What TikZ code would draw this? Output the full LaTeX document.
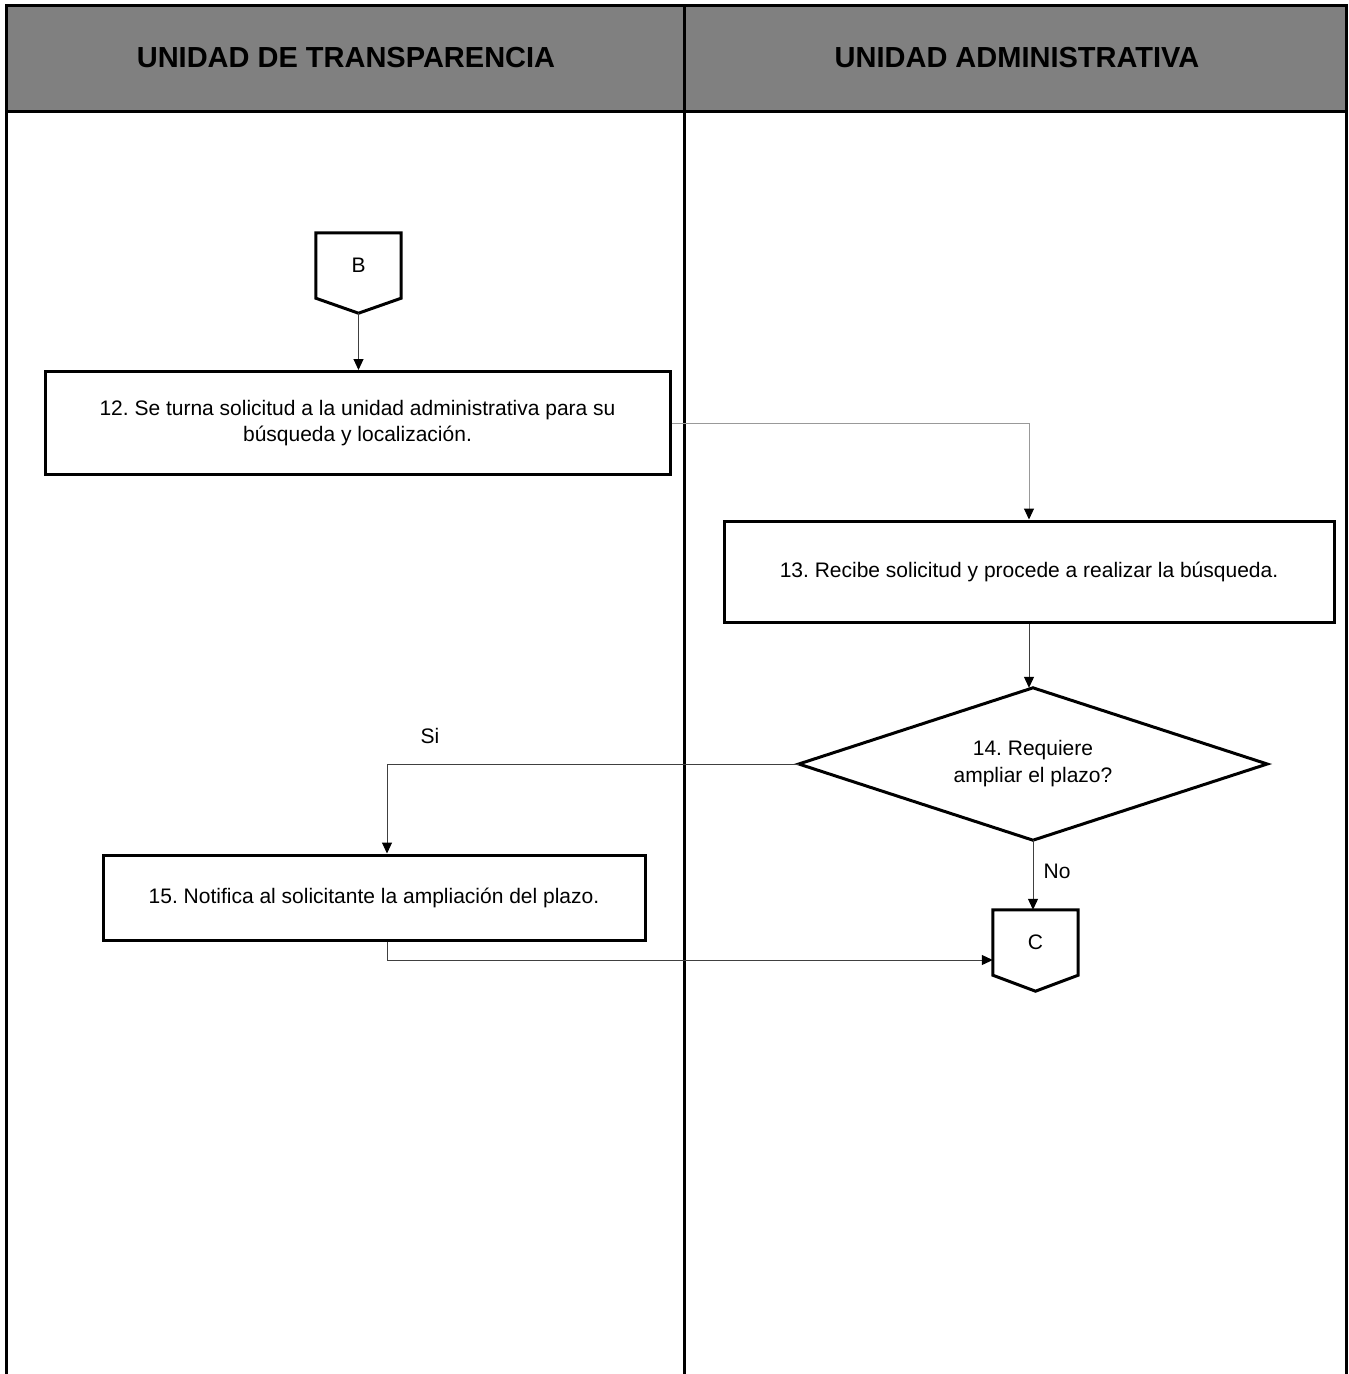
\documentclass[tikz,border=0pt]{standalone}
\usepackage{fontspec}
\setmainfont{Liberation Sans}
\frenchspacing
\usetikzlibrary{arrows.meta,calc}

\definecolor{headcolor}{rgb}{0.500000, 0.500000, 0.500000}
\definecolor{linecolor}{rgb}{0.250000, 0.250000, 0.250000}
\definecolor{lightline}{rgb}{0.600000, 0.600000, 0.600000}

\tikzset{
  frameline/.style={line width=3pt, draw=black},
  procbox/.style={draw=black, line width=3pt, fill=white, align=center,
    font=\fontsize{21}{26}\selectfont},
  shapebox/.style={draw=none, inner sep=0pt, align=center,
    font=\fontsize{21}{27}\selectfont},
  headtext/.style={font=\fontsize{29}{34}\selectfont\bfseries},
  flow/.style={draw=linecolor, line width=1pt,
    -{Triangle[width=10pt,length=11pt,color=black]}},
  lbl/.style={font=\fontsize{21}{26}\selectfont}
}

\begin{document}
\begin{tikzpicture}[x=1pt,y=-1pt]
\useasboundingbox (0,0) rectangle (1349,1374);

% header band and lanes
\fill[headcolor] (6,5) rectangle (1346,111);
\draw[frameline] (6,1374) -- (6,5) -- (1346,5) -- (1346,1374);
\draw[frameline] (6,111) -- (1346,111);
\draw[frameline] (684,5) -- (684,1374);
\node[headtext] (hdrUT) at (346,58) {UNIDAD DE TRANSPARENCIA};
\node[headtext] (hdrUA) at (1017,58) {UNIDAD ADMINISTRATIVA};

% off-page connector B
\node[shapebox, minimum width=85, minimum height=65] (B) at (358.5,265.5) {B};
\coordinate (Btip) at ($(B.south)+(0,15)$);
\draw[line width=3pt, line join=miter] (B.south west) -- (B.north west) -- (B.north east)
  -- (B.south east) -- (Btip) -- cycle;

% steps
\node[procbox, minimum width=625, minimum height=103] (s12) at (357.5,423)
  {12. Se turna solicitud a la unidad administrativa para su\\ búsqueda y localización.};
\node[procbox, minimum width=610, minimum height=101] (s13) at (1029,571.5)
  {13. Recibe solicitud y procede a realizar la búsqueda.};

% decision 14
\node[shapebox, minimum width=468, minimum height=152] (d14) at (1033,764)
  {14. Requiere\\ ampliar el plazo?};
\draw[line width=3pt, line join=miter] (d14.north) -- (d14.east) -- (d14.south) -- (d14.west) -- cycle;

\node[procbox, minimum width=542, minimum height=85] (s15) at (374,897.5)
  {15. Notifica al solicitante la ampliación del plazo.};

% off-page connector C
\node[shapebox, minimum width=85, minimum height=65] (C) at (1035.5,942.5) {C};
\coordinate (Ctip) at ($(C.south)+(0,16)$);
\draw[line width=3pt, line join=miter] (C.south west) -- (C.north west) -- (C.north east)
  -- (C.south east) -- (Ctip) -- cycle;

% connectors
\draw[flow] (Btip) -- (Btip |- s12.north);
\draw[flow, draw=lightline] (s12.east) -| (s13.north);
\draw[flow] (s13.south) -- (s13.south |- d14.north);
\draw[flow] (d14.west) -| ([xshift=13pt]s15.north);
\draw[flow] (d14.south) -- (d14.south |- C.north);
\draw[flow] ([xshift=13pt]s15.south) |- ([yshift=-17.5pt]C.west);

\node[lbl] (si) at (430,736) {Si};
\node[lbl] (no) at (1057,871) {No};
\end{tikzpicture}
\end{document}
